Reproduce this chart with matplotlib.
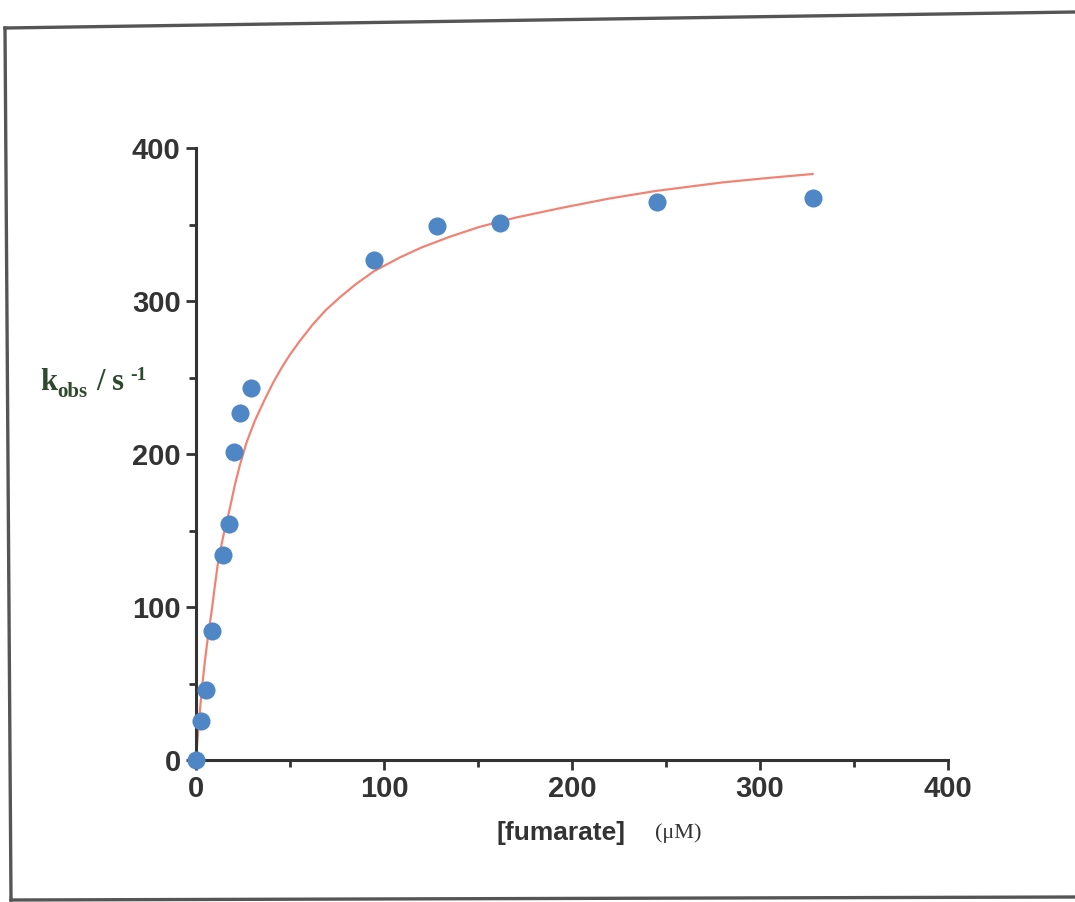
import matplotlib
matplotlib.use("Agg")
import matplotlib.pyplot as plt
from matplotlib.lines import Line2D
from matplotlib.ticker import MultipleLocator

# measured points: [fumarate] (uM) vs k_obs (1/s)
fumarate_uM = [0, 2.7, 5.3, 8.5, 14.4, 17.6, 20.2, 23.4, 29.3, 94.7, 128, 161.7, 245, 328]
kobs = [0, 25.5, 46, 84, 134, 154, 201, 227, 243, 327, 349, 351, 365, 367]

# fitted curve
fit_x = [0, 1.0, 2.1, 3.4, 4.8, 6.5, 8.4, 10.0, 11.9, 14.8, 18.1, 20.7, 23.4, 27.0, 31.4,
         36.7, 41.0, 45.6, 50.0, 55.3, 62.0, 69.0, 76.6, 85.0, 94.7, 108.5, 120.0, 135.0,
         151.0, 170.0, 195.0, 220.0, 245.0, 280.0, 305.0, 328.0]
fit_y = [0, 16.5, 32.7, 49.5, 65.4, 82.0, 98.0, 113.5, 130.7, 148.0, 165.0, 180.0, 193.0,
         208.0, 222.0, 236.0, 246.5, 256.5, 265.0, 274.0, 284.5, 294.0, 302.5, 311.0, 319.5,
         328.5, 335.0, 342.0, 348.5, 354.5, 361.0, 367.0, 372.0, 377.5, 380.5, 383.0]

x_ticks = [0, 100, 200, 300, 400]
y_ticks = [0, 100, 200, 300, 400]

W, H = 1075, 902
fig = plt.figure(figsize=(W / 100, H / 100), dpi=100)
ax = fig.add_axes([196 / W, 1 - 760 / H, (948 - 196) / W, (760 - 148) / H])

axis_col = "#333333"
ax.plot(fit_x, fit_y, "-", color="#f28374", linewidth=1.6, zorder=2, clip_on=False)
ax.scatter(fumarate_uM, kobs, s=170, color="#4f86c6", zorder=3, clip_on=False, linewidths=0)

ax.set_xlim(0, 400)
ax.set_ylim(0, 400)
ax.set_xticks(x_ticks)
ax.set_yticks(y_ticks)
ax.xaxis.set_minor_locator(MultipleLocator(50))
ax.yaxis.set_minor_locator(MultipleLocator(50))

for side in ("top", "right"):
    ax.spines[side].set_visible(False)
for side in ("left", "bottom"):
    ax.spines[side].set_color(axis_col)
    ax.spines[side].set_linewidth(2.2)

ax.tick_params(which="major", direction="out", length=7, width=2, color=axis_col, pad=4)
ax.tick_params(which="minor", direction="out", length=5, width=2, color=axis_col)
for lab in ax.get_xticklabels() + ax.get_yticklabels():
    lab.set_fontfamily("Liberation Sans")
    lab.set_fontweight("bold")
    lab.set_fontsize(21)
    lab.set_color(axis_col)

# y label drawn in pieces: k, subscript obs, " / s", superscript -1
ylab_col = "#2e4a2e"
ylab = dict(family="Liberation Serif", fontweight="bold", color=ylab_col, va="baseline", ha="left")
base_y = 1 - 390 / H
fig.text(40 / W, base_y, "k", fontsize=22, **ylab)
fig.text(57 / W, base_y - 7 / H, "obs", fontsize=15, **ylab)
fig.text(96 / W, base_y, "/ s", fontsize=22, **ylab)
fig.text(130 / W, base_y + 10 / H, "-1", fontsize=14, **ylab)

fig.text(625 / W, 1 - 833 / H, "[fumarate]", fontsize=19, color=axis_col,
         family="Liberation Sans", fontweight="bold", ha="right", va="center")
fig.text(655 / W, 1 - 833 / H, "(\u03bcM)", fontsize=16, color=axis_col,
         family="Liberation Serif", ha="left", va="center")

# scanned frame around the figure
frame_col = "#555555"
for (x0, y0), (x1, y1) in [((5, 28), (1075, 12)), ((5, 28), (11, 900)), ((11, 900), (1075, 897))]:
    fig.add_artist(Line2D([x0 / W, x1 / W], [1 - y0 / H, 1 - y1 / H],
                          transform=fig.transFigure, color=frame_col, linewidth=2.4))

fig.savefig("out.png", dpi=100)
plt.close(fig)
